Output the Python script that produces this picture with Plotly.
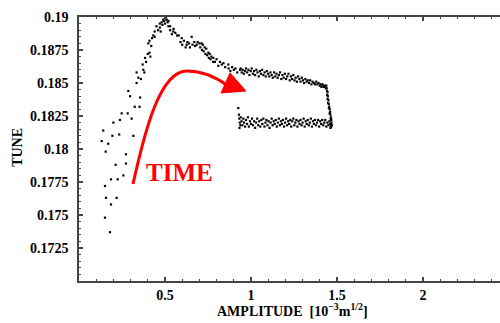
import plotly.graph_objects as go

# ---- data: early sparse / rising / peak / plateau ----
amp_rise = [0.141, 0.132, 0.155, 0.170, 0.194, 0.200, 0.234, 0.238, 0.248, 0.283,
            0.306, 0.316, 0.273, 0.213, 0.273, 0.258, 0.225, 0.186, 0.151, 0.157,
            0.219, 0.186, 0.151, 0.180, 0.324, 0.352, 0.297, 0.355, 0.287, 0.335,
            0.345, 0.360, 0.335, 0.374, 0.370, 0.384, 0.400, 0.410, 0.403, 0.410,
            0.432, 0.440, 0.450, 0.470, 0.481, 0.490, 0.500, 0.510, 0.520, 0.530,
            0.548, 0.560, 0.580, 0.597, 0.610, 0.626, 0.640, 0.655, 0.670, 0.684,
            0.700, 0.713, 0.720, 0.730, 0.740, 0.752, 0.760, 0.770, 0.781, 0.800,
            0.820, 0.840, 0.868, 0.890, 0.910, 0.936, 0.460, 0.470, 0.475, 0.485,
            0.495, 0.500, 0.505, 0.515, 0.520, 0.530, 0.540, 0.550, 0.570, 0.590,
            0.600, 0.620, 0.630, 0.645, 0.660, 0.675, 0.690, 0.705, 0.715, 0.725,
            0.735, 0.745, 0.755, 0.765, 0.780, 0.790, 0.810, 0.830, 0.850, 0.870,
            0.880, 0.900, 0.920, 0.420, 0.425, 0.440, 0.415, 0.390, 0.380]
tune_rise = [0.1814, 0.1806, 0.1798, 0.1804, 0.1810, 0.1820, 0.1811, 0.1822, 0.1827, 0.1827,
             0.1823, 0.1810, 0.1796, 0.1788, 0.1789, 0.1780, 0.1777, 0.1777, 0.1772, 0.1763,
             0.1763, 0.1758, 0.1748, 0.1737, 0.1832, 0.1832, 0.1840, 0.1839, 0.1844, 0.1850,
             0.1854, 0.1853, 0.1858, 0.1860, 0.1864, 0.1869, 0.1872, 0.1873, 0.1880, 0.1882,
             0.1886, 0.1889, 0.1893, 0.1895, 0.1896, 0.1898, 0.1899, 0.1898, 0.1897, 0.1893,
             0.1889, 0.1888, 0.1886, 0.1884, 0.1882, 0.1879, 0.1880, 0.1885, 0.1881, 0.1879,
             0.1880, 0.1880, 0.1879, 0.1877, 0.1876, 0.1873, 0.1872, 0.1870, 0.1869, 0.1868,
             0.1866, 0.1865, 0.1864, 0.1862, 0.1861, 0.1860, 0.1890, 0.1892, 0.1889, 0.1894,
             0.1897, 0.1895, 0.1900, 0.1896, 0.1893, 0.1890, 0.1887, 0.1891, 0.1886, 0.1881,
             0.1879, 0.1877, 0.1881, 0.1877, 0.1879, 0.1878, 0.1881, 0.1877, 0.1875, 0.1874,
             0.1872, 0.1871, 0.1869, 0.1868, 0.1866, 0.1866, 0.1863, 0.1864, 0.1862, 0.1861,
             0.1859, 0.1860, 0.1858, 0.1878, 0.1884, 0.1885, 0.1870, 0.1866, 0.1858]

# ---- data: upper branch ----
amp_upper = [0.940, 0.946, 0.952, 0.958, 0.965, 0.971, 0.978, 0.985, 0.991, 0.998,
             1.004, 1.011, 1.018, 1.024, 1.031, 1.038, 1.045, 1.052, 1.058, 1.065,
             1.072, 1.079, 1.086, 1.092, 1.099, 1.106, 1.113, 1.120, 1.127, 1.134,
             1.141, 1.148, 1.155, 1.162, 1.169, 1.176, 1.183, 1.190, 1.197, 1.204,
             1.211, 1.218, 1.225, 1.232, 1.239, 1.246, 1.253, 1.260, 1.267, 1.274,
             1.281, 1.288, 1.295, 1.302, 1.309, 1.316, 1.323, 1.330, 1.337, 1.344,
             1.351, 1.358, 1.365, 1.372, 1.379, 1.386, 1.393, 1.400, 1.405, 1.410,
             1.415, 1.420, 1.425, 1.430, 1.435, 1.438]
tune_upper = [0.1861, 0.1858, 0.1860, 0.1857, 0.1859, 0.1861, 0.1858, 0.1860, 0.1856, 0.1859,
              0.1861, 0.1857, 0.1859, 0.1856, 0.1860, 0.1858, 0.1855, 0.1859, 0.1857, 0.1860,
              0.1856, 0.1858, 0.1855, 0.1859, 0.1857, 0.1855, 0.1858, 0.1856, 0.1854, 0.1858,
              0.1855, 0.1857, 0.1854, 0.1856, 0.1858, 0.1853, 0.1856, 0.1854, 0.1857, 0.1853,
              0.1855, 0.1857, 0.1852, 0.1855, 0.1853, 0.1856, 0.1852, 0.1854, 0.1851, 0.1855,
              0.1853, 0.1851, 0.1854, 0.1852, 0.1850, 0.1853, 0.1851, 0.1852, 0.1850, 0.1852,
              0.1849, 0.1851, 0.1850, 0.1849, 0.1851, 0.1849, 0.1850, 0.1848, 0.1849, 0.1847,
              0.1849, 0.1848, 0.1847, 0.1848, 0.1846, 0.1848]

# ---- data: vertical drop ----
amp_drop = [1.440, 1.442, 1.445, 1.443, 1.447, 1.445, 1.450, 1.448, 1.452, 1.455,
            1.453, 1.458, 1.460, 1.457, 1.462, 1.465, 1.463, 1.467, 1.468, 1.465,
            1.470, 1.466, 1.462]
tune_drop = [0.1846, 0.1844, 0.1843, 0.1841, 0.1840, 0.1838, 0.1837, 0.1835, 0.1834, 0.1832,
             0.1831, 0.1830, 0.1828, 0.1827, 0.1826, 0.1824, 0.1823, 0.1822, 0.1820, 0.1819,
             0.1818, 0.1817, 0.1816]

# ---- data: lower branch ----
amp_lower = [0.926, 0.930, 0.932, 0.935, 0.938, 0.933, 0.940, 0.945, 0.950, 0.955,
             0.960, 0.966, 0.971, 0.977, 0.982, 0.988, 0.994, 1.000, 1.006, 1.012,
             1.018, 1.024, 1.030, 1.036, 1.042, 1.048, 1.054, 1.060, 1.066, 1.072,
             1.078, 1.084, 1.090, 1.096, 1.102, 1.108, 1.114, 1.120, 1.126, 1.132,
             1.138, 1.144, 1.150, 1.156, 1.162, 1.168, 1.174, 1.180, 1.186, 1.192,
             1.198, 1.204, 1.210, 1.216, 1.222, 1.228, 1.234, 1.240, 1.246, 1.252,
             1.258, 1.264, 1.270, 1.276, 1.282, 1.288, 1.294, 1.300, 1.306, 1.312,
             1.318, 1.324, 1.330, 1.336, 1.342, 1.348, 1.354, 1.360, 1.366, 1.372,
             1.378, 1.384, 1.390, 1.396, 1.402, 1.408, 1.414, 1.420, 1.426, 1.432,
             1.438, 1.444, 1.450, 1.456, 1.460, 1.465]
tune_lower = [0.1831, 0.1826, 0.1823, 0.1820, 0.1818, 0.1816, 0.1824, 0.1821, 0.1818, 0.1823,
              0.1820, 0.1817, 0.1822, 0.1819, 0.1824, 0.1817, 0.1821, 0.1819, 0.1823, 0.1818,
              0.1821, 0.1816, 0.1820, 0.1823, 0.1818, 0.1821, 0.1817, 0.1822, 0.1819, 0.1823,
              0.1817, 0.1820, 0.1822, 0.1818, 0.1821, 0.1816, 0.1820, 0.1823, 0.1818, 0.1821,
              0.1819, 0.1822, 0.1817, 0.1820, 0.1823, 0.1818, 0.1821, 0.1819, 0.1822, 0.1817,
              0.1820, 0.1823, 0.1818, 0.1821, 0.1819, 0.1822, 0.1817, 0.1821, 0.1823, 0.1818,
              0.1820, 0.1822, 0.1817, 0.1821, 0.1819, 0.1822, 0.1818, 0.1820, 0.1823, 0.1817,
              0.1821, 0.1819, 0.1822, 0.1818, 0.1820, 0.1823, 0.1817, 0.1821, 0.1819, 0.1822,
              0.1818, 0.1820, 0.1822, 0.1817, 0.1821, 0.1819, 0.1822, 0.1818, 0.1820, 0.1822,
              0.1817, 0.1820, 0.1818, 0.1821, 0.1819, 0.1817]

y_tick_vals = [0.1725, 0.175, 0.1775, 0.18, 0.1825, 0.185, 0.1875, 0.19]
y_tick_text = ["0.1725", "0.175", "0.1775", "0.18", "0.1825", "0.185", "0.1875", "0.19"]
x_tick_vals = [0.5, 1.0, 1.5, 2.0]
x_tick_text = ["0.5", "1", "1.5", "2"]

SERIF = "Liberation Serif"
AX = "#444444"

fig = go.Figure()
for xs, ys in [(amp_rise, tune_rise), (amp_upper, tune_upper),
               (amp_drop, tune_drop), (amp_lower, tune_lower)]:
    fig.add_trace(go.Scatter(x=xs, y=ys, mode="markers",
                             marker=dict(symbol="square", size=2.2, color="black",
                                         line=dict(width=0)),
                             showlegend=False, hoverinfo="skip"))

# red "TIME" arrow
fig.add_shape(type="path", xref="x", yref="y",
              path=("M 0.3140,0.177348 C 0.3837,0.181439 0.4709,0.185909 0.6279,0.185909 "
                    "Q 0.75,0.185909 0.8663,0.184773"),
              line=dict(color="#ff0000", width=3))
fig.add_shape(type="path", xref="x", yref="y",
              path="M 0.8779,0.185758 L 0.8256,0.184242 L 0.9709,0.184394 Z",
              fillcolor="#ff0000", line=dict(color="#ff0000", width=1))

fig.add_annotation(x=0.587, y=0.17822, xref="x", yref="y", text="TIME",
                   showarrow=False, xanchor="center", yanchor="middle",
                   font=dict(family=SERIF, size=25, color="#ff0000", weight="bold"))

fig.add_annotation(x=-0.145, y=0.508, xref="paper", yref="paper", text="TUNE",
                   textangle=-90, showarrow=False, xanchor="center", yanchor="middle",
                   font=dict(family=SERIF, size=14, color="black", weight="bold"))
fig.add_annotation(x=0.506, y=-0.11, xref="paper", yref="paper",
                   text="AMPLITUDE  [10<sup>−3</sup>m<sup>1/2</sup>]",
                   showarrow=False, xanchor="center", yanchor="middle",
                   font=dict(family=SERIF, size=14, color="black", weight="bold"))

fig.update_xaxes(range=[0, 2.4477], tickmode="array", tickvals=x_tick_vals,
                 ticktext=x_tick_text, ticks="inside", ticklen=4, tickwidth=1.5,
                 tickcolor=AX, showline=True, linecolor=AX, linewidth=1.5,
                 mirror="ticks", showgrid=False, zeroline=False,
                 ticklabelstandoff=0,
                 minor=dict(tickmode="linear", tick0=0, dtick=0.1, ticks="inside",
                            ticklen=2, tickwidth=1, tickcolor=AX, showgrid=False),
                 tickfont=dict(family=SERIF, size=14, color="black", weight="bold"))
fig.update_yaxes(range=[0.17, 0.19], tickmode="array", tickvals=y_tick_vals,
                 ticktext=y_tick_text, ticks="inside", ticklen=4, tickwidth=1.5,
                 tickcolor=AX, showline=True, linecolor=AX, linewidth=1.5,
                 showgrid=False, zeroline=False, ticklabelstandoff=6,
                 minor=dict(tickmode="linear", tick0=0.17, dtick=0.0005, ticks="inside",
                            ticklen=2, tickwidth=1, tickcolor=AX, showgrid=False),
                 tickfont=dict(family=SERIF, size=14, color="black", weight="bold"))

fig.update_layout(width=500, height=323, margin=dict(l=79, r=0, t=17, b=42),
                  paper_bgcolor="white", plot_bgcolor="white")

fig.write_html("out.html", config={"displayModeBar": False},
               post_script="document.body.style.margin='0';document.body.style.overflow='hidden';")
